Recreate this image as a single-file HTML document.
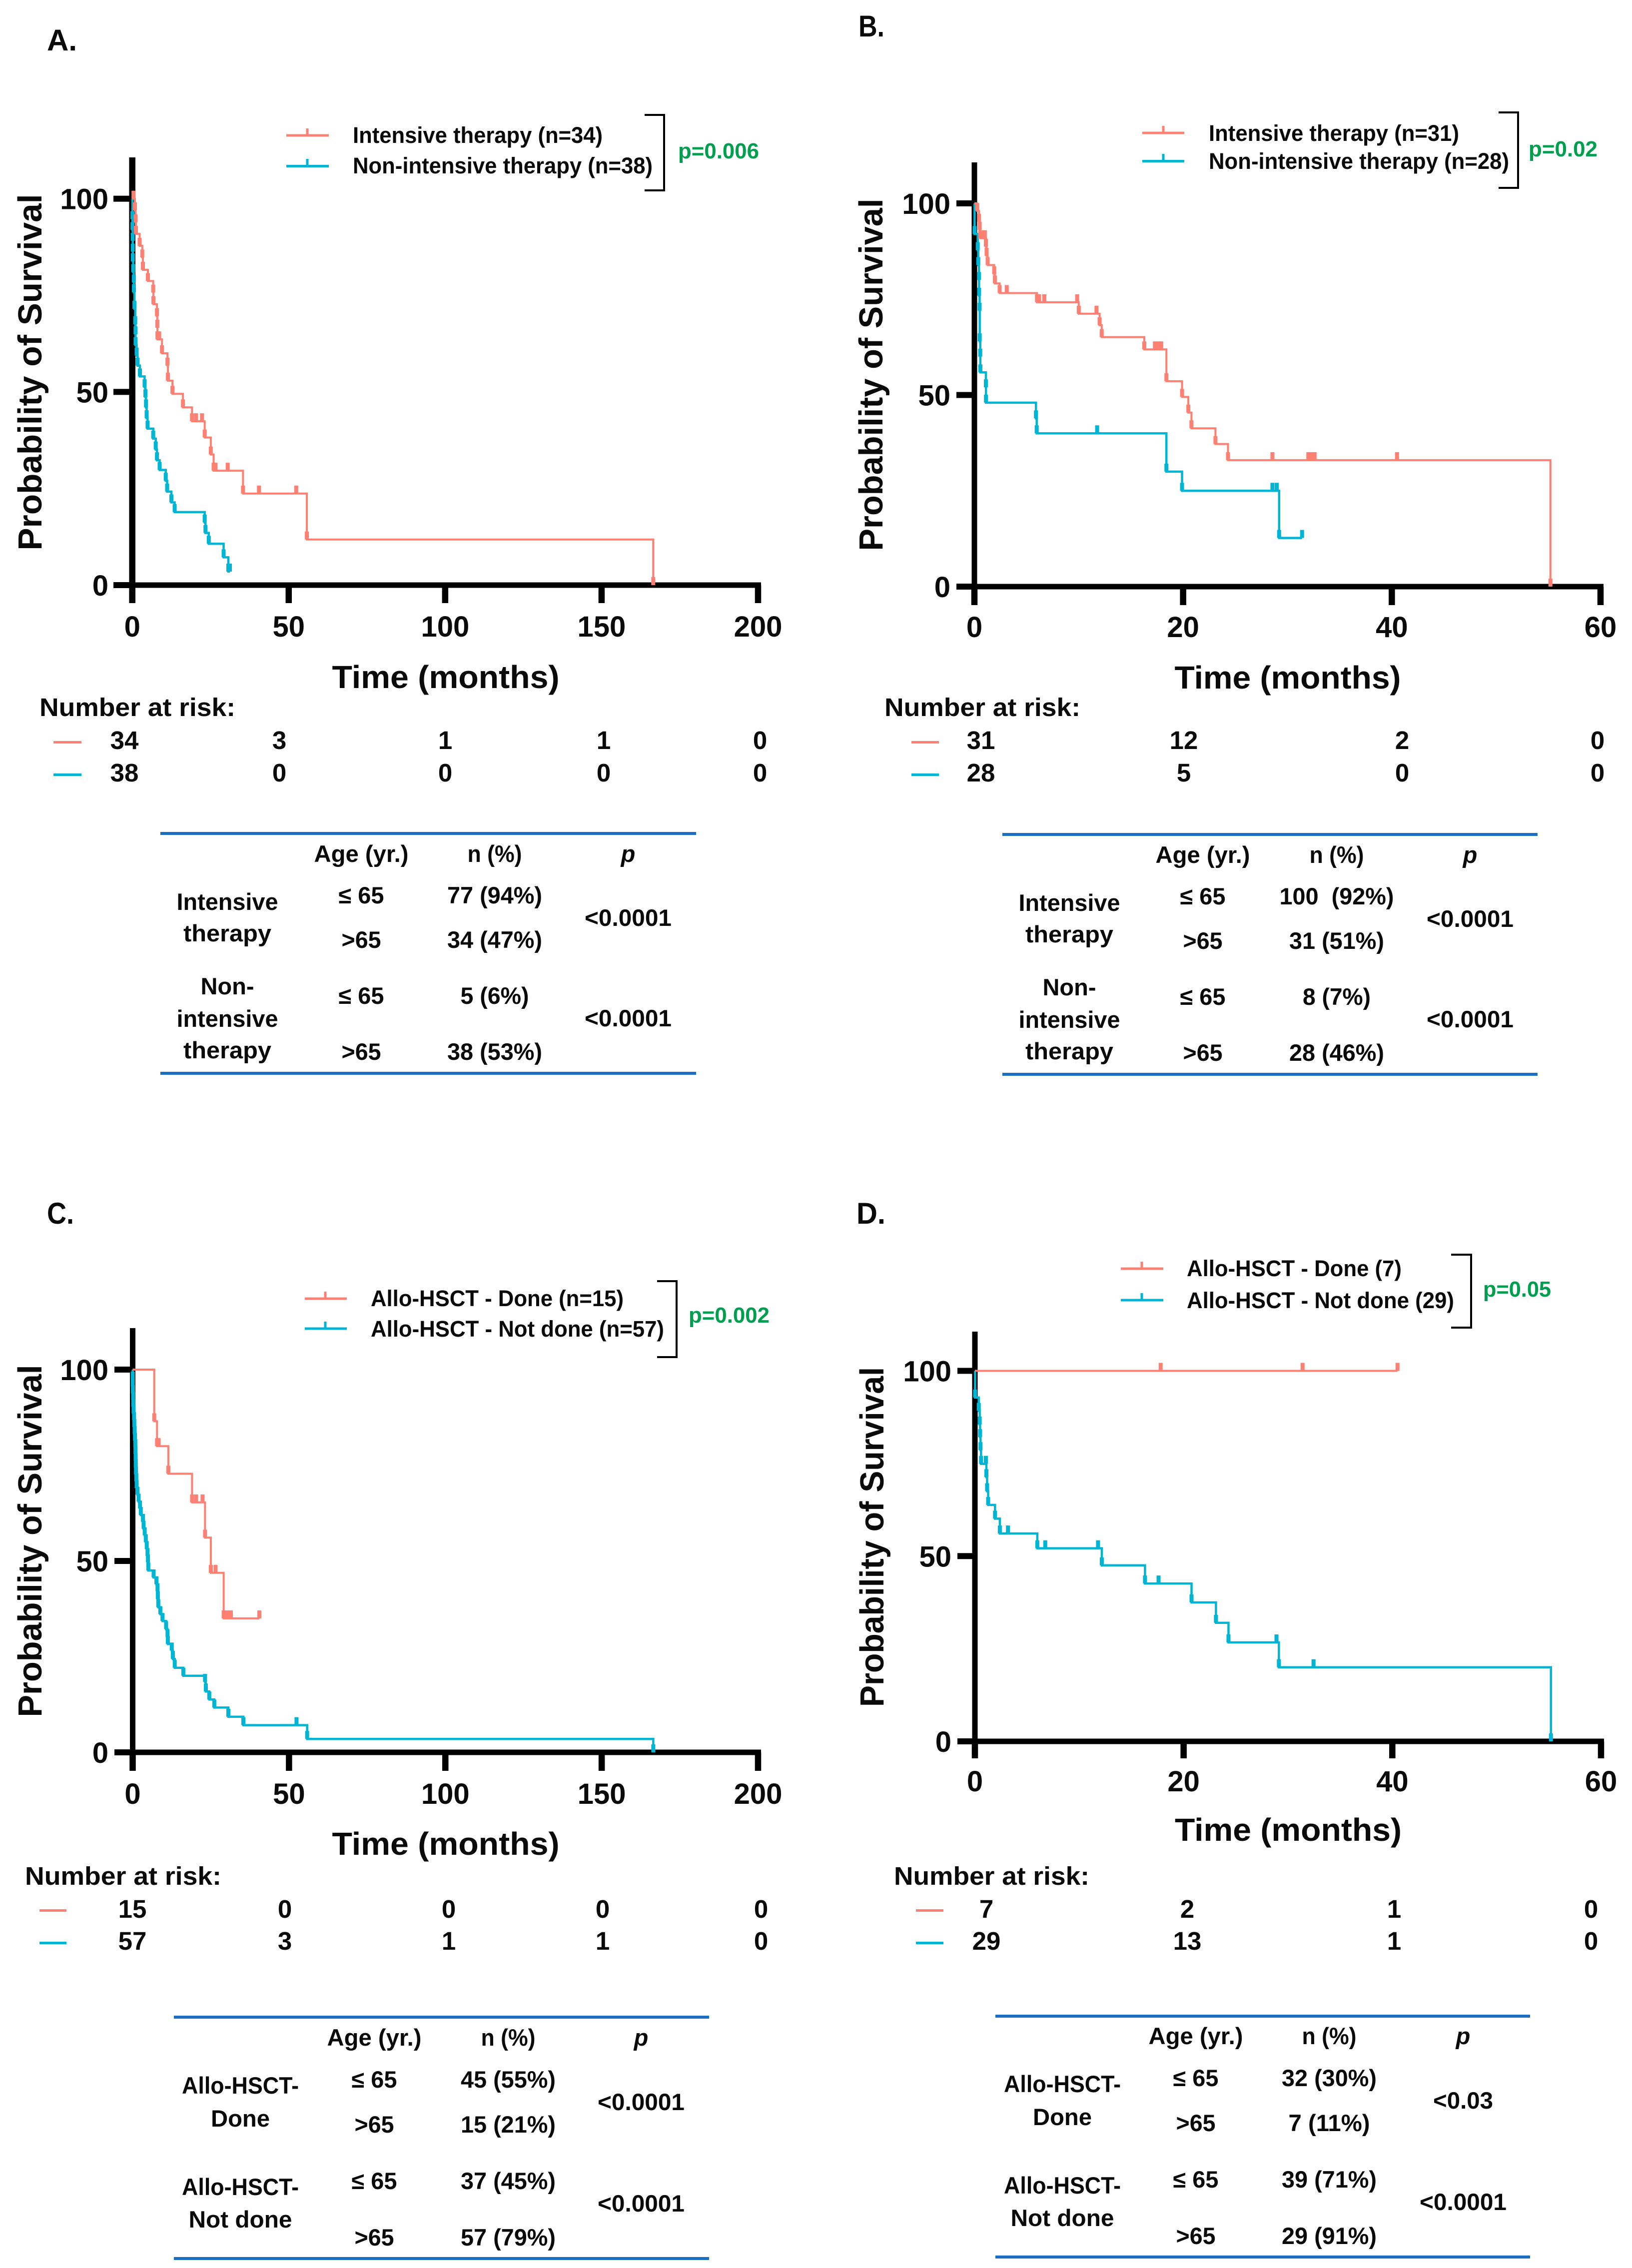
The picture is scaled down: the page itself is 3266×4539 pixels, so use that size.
<!DOCTYPE html>
<html lang="en">
<head>
<meta charset="utf-8">
<title>Kaplan-Meier survival panels</title>
<style>
html,body{margin:0;padding:0;background:#fff;}
svg{display:block;}
text{font-family:"Liberation Sans",Arial,sans-serif;font-weight:bold;fill:#0a0a0a;}
.ph{font-size:60px;}
.yt{font-size:67px;text-anchor:middle;}
.xt{font-size:64px;text-anchor:middle;}
.lg{font-size:45px;}
.pv{font-size:44px;fill:#009e4f;}
.nr{font-size:51px;}
.rk{font-size:51px;text-anchor:middle;}
.tb{font-size:47px;text-anchor:middle;}
.tk{font-size:58px;}
</style>
</head>
<body>
<svg id="fig" xmlns="http://www.w3.org/2000/svg" width="3266" height="4539" viewBox="0 0 3266 4539">
<rect width="3266" height="4539" fill="#fff"/>

<!-- PANEL A -->
<g>
<text class="ph" x="94" y="101" textLength="60" lengthAdjust="spacingAndGlyphs">A.</text>
<text class="yt" transform="translate(83,745) rotate(-90)" textLength="713" lengthAdjust="spacingAndGlyphs">Probability of Survival</text>
<text class="xt" x="892" y="1377" textLength="455" lengthAdjust="spacingAndGlyphs">Time (months)</text>
<g id="plot-a"></g>
<g>
<path d="M573 271H658M615 271V257" stroke="#fd8072" stroke-width="5" fill="none"/>
<path d="M573 332.5H658M615 332.5V318" stroke="#00b5d3" stroke-width="5" fill="none"/>
<text class="lg" x="706" y="286" textLength="500" lengthAdjust="spacingAndGlyphs">Intensive therapy (n=34)</text>
<text class="lg" x="706" y="347" textLength="600" lengthAdjust="spacingAndGlyphs">Non-intensive therapy (n=38)</text>
<path d="M1290 230H1329V381H1290" stroke="#000" stroke-width="4" fill="none"/>
<text class="pv" x="1357" y="317" textLength="162" lengthAdjust="spacingAndGlyphs">p=0.006</text>
</g>
<g>
<text class="nr" x="79" y="1433" textLength="392" lengthAdjust="spacingAndGlyphs">Number at risk:</text>
<rect x="107" y="1483" width="56" height="5" fill="#fd8072"/>
<rect x="107" y="1548" width="56" height="5" fill="#00b5d3"/>
<text class="rk" x="249" y="1499">34</text>
<text class="rk" x="559" y="1499">3</text>
<text class="rk" x="891" y="1499">1</text>
<text class="rk" x="1208" y="1499">1</text>
<text class="rk" x="1521" y="1499">0</text>
<text class="rk" x="249" y="1564">38</text>
<text class="rk" x="559" y="1564">0</text>
<text class="rk" x="891" y="1564">0</text>
<text class="rk" x="1208" y="1564">0</text>
<text class="rk" x="1521" y="1564">0</text>
</g>
<g>
<rect x="321" y="1665" width="1072" height="6" fill="#1b6ec2"/>
<rect x="321" y="2145" width="1072" height="6" fill="#1b6ec2"/>
<text class="tb" x="723" y="1725" textLength="189" lengthAdjust="spacingAndGlyphs">Age (yr.)</text>
<text class="tb" x="990" y="1725" textLength="109" lengthAdjust="spacingAndGlyphs">n (%)</text>
<text class="tb" x="1257" y="1725" font-style="italic">p</text>
<text class="tb" x="455" y="1821" textLength="203" lengthAdjust="spacingAndGlyphs">Intensive</text>
<text class="tb" x="455" y="1884" textLength="176" lengthAdjust="spacingAndGlyphs">therapy</text>
<text class="tb" x="455" y="1990" textLength="107" lengthAdjust="spacingAndGlyphs">Non-</text>
<text class="tb" x="455" y="2055" textLength="203" lengthAdjust="spacingAndGlyphs">intensive</text>
<text class="tb" x="455" y="2118" textLength="176" lengthAdjust="spacingAndGlyphs">therapy</text>
<text class="tb" x="723" y="1808" textLength="91" lengthAdjust="spacingAndGlyphs">≤ 65</text>
<text class="tb" x="723" y="1897" textLength="79" lengthAdjust="spacingAndGlyphs">&gt;65</text>
<text class="tb" x="723" y="2009" textLength="91" lengthAdjust="spacingAndGlyphs">≤ 65</text>
<text class="tb" x="723" y="2121" textLength="79" lengthAdjust="spacingAndGlyphs">&gt;65</text>
<text class="tb" x="990" y="1808" textLength="190" lengthAdjust="spacingAndGlyphs">77 (94%)</text>
<text class="tb" x="990" y="1897" textLength="190" lengthAdjust="spacingAndGlyphs">34 (47%)</text>
<text class="tb" x="990" y="2009" textLength="137" lengthAdjust="spacingAndGlyphs">5 (6%)</text>
<text class="tb" x="990" y="2121" textLength="190" lengthAdjust="spacingAndGlyphs">38 (53%)</text>
<text class="tb" x="1257" y="1853" textLength="174" lengthAdjust="spacingAndGlyphs">&lt;0.0001</text>
<text class="tb" x="1257" y="2054" textLength="174" lengthAdjust="spacingAndGlyphs">&lt;0.0001</text>
</g>
</g>

<!-- PANEL B -->
<g>
<text class="ph" x="1718" y="73" textLength="52" lengthAdjust="spacingAndGlyphs">B.</text>
<text class="yt" transform="translate(1766,750) rotate(-90)" textLength="705" lengthAdjust="spacingAndGlyphs">Probability of Survival</text>
<text class="xt" x="2577" y="1378" textLength="453" lengthAdjust="spacingAndGlyphs">Time (months)</text>
<g id="plot-b"></g>
<g>
<path d="M2286 266H2370M2328 266V252" stroke="#fd8072" stroke-width="5" fill="none"/>
<path d="M2286 322.5H2370M2328 322.5V308" stroke="#00b5d3" stroke-width="5" fill="none"/>
<text class="lg" x="2419" y="282" textLength="501" lengthAdjust="spacingAndGlyphs">Intensive therapy (n=31)</text>
<text class="lg" x="2419" y="338" textLength="601" lengthAdjust="spacingAndGlyphs">Non-intensive therapy (n=28)</text>
<path d="M2999 225H3038V376H2999" stroke="#000" stroke-width="4" fill="none"/>
<text class="pv" x="3059" y="313" textLength="138" lengthAdjust="spacingAndGlyphs">p=0.02</text>
</g>
<g>
<text class="nr" x="1770" y="1433" textLength="392" lengthAdjust="spacingAndGlyphs">Number at risk:</text>
<rect x="1824" y="1483" width="55" height="5" fill="#fd8072"/>
<rect x="1824" y="1548" width="55" height="5" fill="#00b5d3"/>
<text class="rk" x="1963" y="1499">31</text>
<text class="rk" x="2369" y="1499">12</text>
<text class="rk" x="2806" y="1499">2</text>
<text class="rk" x="3197" y="1499">0</text>
<text class="rk" x="1963" y="1564">28</text>
<text class="rk" x="2369" y="1564">5</text>
<text class="rk" x="2806" y="1564">0</text>
<text class="rk" x="3197" y="1564">0</text>
</g>
<g>
<rect x="2006" y="1667" width="1071" height="6" fill="#1b6ec2"/>
<rect x="2006" y="2147" width="1071" height="6" fill="#1b6ec2"/>
<text class="tb" x="2407" y="1727" textLength="189" lengthAdjust="spacingAndGlyphs">Age (yr.)</text>
<text class="tb" x="2675" y="1727" textLength="109" lengthAdjust="spacingAndGlyphs">n (%)</text>
<text class="tb" x="2942" y="1727" font-style="italic">p</text>
<text class="tb" x="2140" y="1823" textLength="203" lengthAdjust="spacingAndGlyphs">Intensive</text>
<text class="tb" x="2140" y="1886" textLength="176" lengthAdjust="spacingAndGlyphs">therapy</text>
<text class="tb" x="2140" y="1992" textLength="107" lengthAdjust="spacingAndGlyphs">Non-</text>
<text class="tb" x="2140" y="2057" textLength="203" lengthAdjust="spacingAndGlyphs">intensive</text>
<text class="tb" x="2140" y="2120" textLength="176" lengthAdjust="spacingAndGlyphs">therapy</text>
<text class="tb" x="2407" y="1810" textLength="91" lengthAdjust="spacingAndGlyphs">≤ 65</text>
<text class="tb" x="2407" y="1899" textLength="79" lengthAdjust="spacingAndGlyphs">&gt;65</text>
<text class="tb" x="2407" y="2011" textLength="91" lengthAdjust="spacingAndGlyphs">≤ 65</text>
<text class="tb" x="2407" y="2123" textLength="79" lengthAdjust="spacingAndGlyphs">&gt;65</text>
<text class="tb" x="2675" y="1810" textLength="229" lengthAdjust="spacingAndGlyphs" xml:space="preserve">100  (92%)</text>
<text class="tb" x="2675" y="1899" textLength="190" lengthAdjust="spacingAndGlyphs">31 (51%)</text>
<text class="tb" x="2675" y="2011" textLength="136" lengthAdjust="spacingAndGlyphs">8 (7%)</text>
<text class="tb" x="2675" y="2123" textLength="190" lengthAdjust="spacingAndGlyphs">28 (46%)</text>
<text class="tb" x="2942" y="1855" textLength="174" lengthAdjust="spacingAndGlyphs">&lt;0.0001</text>
<text class="tb" x="2942" y="2056" textLength="174" lengthAdjust="spacingAndGlyphs">&lt;0.0001</text>
</g>
</g>

<!-- PANEL C -->
<g>
<text class="ph" x="94" y="2449" textLength="54" lengthAdjust="spacingAndGlyphs">C.</text>
<text class="yt" transform="translate(83,3084) rotate(-90)" textLength="705" lengthAdjust="spacingAndGlyphs">Probability of Survival</text>
<text class="xt" x="892" y="3712" textLength="455" lengthAdjust="spacingAndGlyphs">Time (months)</text>
<g id="plot-c"></g>
<g>
<path d="M610 2599H694M651 2599V2585" stroke="#fd8072" stroke-width="5" fill="none"/>
<path d="M610 2659H694M651 2659V2645" stroke="#00b5d3" stroke-width="5" fill="none"/>
<text class="lg" x="742" y="2614" textLength="506" lengthAdjust="spacingAndGlyphs">Allo-HSCT - Done (n=15)</text>
<text class="lg" x="742" y="2675" textLength="587" lengthAdjust="spacingAndGlyphs">Allo-HSCT - Not done (n=57)</text>
<path d="M1315 2564H1354V2716H1315" stroke="#000" stroke-width="4" fill="none"/>
<text class="pv" x="1378" y="2647" textLength="162" lengthAdjust="spacingAndGlyphs">p=0.002</text>
</g>
<g>
<text class="nr" x="50" y="3772" textLength="393" lengthAdjust="spacingAndGlyphs">Number at risk:</text>
<rect x="79" y="3821" width="54" height="5" fill="#fd8072"/>
<rect x="79" y="3886" width="54" height="5" fill="#00b5d3"/>
<text class="rk" x="265" y="3838">15</text>
<text class="rk" x="570" y="3838">0</text>
<text class="rk" x="898" y="3838">0</text>
<text class="rk" x="1206" y="3838">0</text>
<text class="rk" x="1523" y="3838">0</text>
<text class="rk" x="265" y="3902">57</text>
<text class="rk" x="570" y="3902">3</text>
<text class="rk" x="898" y="3902">1</text>
<text class="rk" x="1206" y="3902">1</text>
<text class="rk" x="1523" y="3902">0</text>
</g>
<g>
<rect x="348" y="4034" width="1071" height="6" fill="#1b6ec2"/>
<rect x="348" y="4517" width="1071" height="6" fill="#1b6ec2"/>
<text class="tb" x="749" y="4094" textLength="189" lengthAdjust="spacingAndGlyphs">Age (yr.)</text>
<text class="tb" x="1017" y="4094" textLength="109" lengthAdjust="spacingAndGlyphs">n (%)</text>
<text class="tb" x="1283" y="4094" font-style="italic">p</text>
<text class="tb" x="481" y="4190" textLength="234" lengthAdjust="spacingAndGlyphs">Allo-HSCT-</text>
<text class="tb" x="481" y="4256" textLength="118" lengthAdjust="spacingAndGlyphs">Done</text>
<text class="tb" x="481" y="4393" textLength="234" lengthAdjust="spacingAndGlyphs">Allo-HSCT-</text>
<text class="tb" x="481" y="4458" textLength="207" lengthAdjust="spacingAndGlyphs">Not done</text>
<text class="tb" x="749" y="4178" textLength="91" lengthAdjust="spacingAndGlyphs">≤ 65</text>
<text class="tb" x="749" y="4268" textLength="79" lengthAdjust="spacingAndGlyphs">&gt;65</text>
<text class="tb" x="749" y="4381" textLength="91" lengthAdjust="spacingAndGlyphs">≤ 65</text>
<text class="tb" x="749" y="4494" textLength="79" lengthAdjust="spacingAndGlyphs">&gt;65</text>
<text class="tb" x="1017" y="4178" textLength="190" lengthAdjust="spacingAndGlyphs">45 (55%)</text>
<text class="tb" x="1017" y="4268" textLength="190" lengthAdjust="spacingAndGlyphs">15 (21%)</text>
<text class="tb" x="1017" y="4381" textLength="190" lengthAdjust="spacingAndGlyphs">37 (45%)</text>
<text class="tb" x="1017" y="4494" textLength="190" lengthAdjust="spacingAndGlyphs">57 (79%)</text>
<text class="tb" x="1283" y="4223" textLength="174" lengthAdjust="spacingAndGlyphs">&lt;0.0001</text>
<text class="tb" x="1283" y="4426" textLength="174" lengthAdjust="spacingAndGlyphs">&lt;0.0001</text>
</g>
</g>

<!-- PANEL D -->
<g>
<text class="ph" x="1714" y="2449" textLength="58" lengthAdjust="spacingAndGlyphs">D.</text>
<text class="yt" transform="translate(1768,3076) rotate(-90)" textLength="680" lengthAdjust="spacingAndGlyphs">Probability of Survival</text>
<text class="xt" x="2578" y="3684" textLength="454" lengthAdjust="spacingAndGlyphs">Time (months)</text>
<g id="plot-d"></g>
<g>
<path d="M2243 2539H2328M2285 2539V2525" stroke="#fd8072" stroke-width="5" fill="none"/>
<path d="M2243 2602H2328M2285 2602V2588" stroke="#00b5d3" stroke-width="5" fill="none"/>
<text class="lg" x="2375" y="2554" textLength="430" lengthAdjust="spacingAndGlyphs">Allo-HSCT - Done (7)</text>
<text class="lg" x="2375" y="2618" textLength="535" lengthAdjust="spacingAndGlyphs">Allo-HSCT - Not done (29)</text>
<path d="M2904 2511H2944V2657H2904" stroke="#000" stroke-width="4" fill="none"/>
<text class="pv" x="2968" y="2595" textLength="136" lengthAdjust="spacingAndGlyphs">p=0.05</text>
</g>
<g>
<text class="nr" x="1789" y="3772" textLength="391" lengthAdjust="spacingAndGlyphs">Number at risk:</text>
<rect x="1833" y="3821" width="55" height="5" fill="#fd8072"/>
<rect x="1833" y="3886" width="55" height="5" fill="#00b5d3"/>
<text class="rk" x="1974" y="3838">7</text>
<text class="rk" x="2376" y="3838">2</text>
<text class="rk" x="2790" y="3838">1</text>
<text class="rk" x="3184" y="3838">0</text>
<text class="rk" x="1974" y="3902">29</text>
<text class="rk" x="2376" y="3902">13</text>
<text class="rk" x="2790" y="3902">1</text>
<text class="rk" x="3184" y="3902">0</text>
</g>
<g>
<rect x="1992" y="4032" width="1070" height="6" fill="#1b6ec2"/>
<rect x="1992" y="4514" width="1070" height="6" fill="#1b6ec2"/>
<text class="tb" x="2393" y="4091" textLength="189" lengthAdjust="spacingAndGlyphs">Age (yr.)</text>
<text class="tb" x="2660" y="4091" textLength="109" lengthAdjust="spacingAndGlyphs">n (%)</text>
<text class="tb" x="2928" y="4091" font-style="italic">p</text>
<text class="tb" x="2126" y="4187" textLength="234" lengthAdjust="spacingAndGlyphs">Allo-HSCT-</text>
<text class="tb" x="2126" y="4253" textLength="118" lengthAdjust="spacingAndGlyphs">Done</text>
<text class="tb" x="2126" y="4390" textLength="234" lengthAdjust="spacingAndGlyphs">Allo-HSCT-</text>
<text class="tb" x="2126" y="4455" textLength="207" lengthAdjust="spacingAndGlyphs">Not done</text>
<text class="tb" x="2393" y="4175" textLength="91" lengthAdjust="spacingAndGlyphs">≤ 65</text>
<text class="tb" x="2393" y="4265" textLength="79" lengthAdjust="spacingAndGlyphs">&gt;65</text>
<text class="tb" x="2393" y="4378" textLength="91" lengthAdjust="spacingAndGlyphs">≤ 65</text>
<text class="tb" x="2393" y="4491" textLength="79" lengthAdjust="spacingAndGlyphs">&gt;65</text>
<text class="tb" x="2660" y="4175" textLength="190" lengthAdjust="spacingAndGlyphs">32 (30%)</text>
<text class="tb" x="2660" y="4265" textLength="163" lengthAdjust="spacingAndGlyphs">7 (11%)</text>
<text class="tb" x="2660" y="4378" textLength="190" lengthAdjust="spacingAndGlyphs">39 (71%)</text>
<text class="tb" x="2660" y="4491" textLength="190" lengthAdjust="spacingAndGlyphs">29 (91%)</text>
<text class="tb" x="2928" y="4220" textLength="120" lengthAdjust="spacingAndGlyphs">&lt;0.03</text>
<text class="tb" x="2928" y="4423" textLength="174" lengthAdjust="spacingAndGlyphs">&lt;0.0001</text>
</g>
</g>
</svg>

<script>
// ---- Data: time in months, survival in percent ----
const yTickValues = [0, 50, 100];
const xTicksLong = [0, 50, 100, 150, 200];
const xTicksShort = [0, 20, 40, 60];

const aRedTimes = [0.85,1.07,1.17,2.35,3.2,3.4,5.0,6.7,6.75,7.9,8.0,8.05,9.5,11.25,11.4,12.85,16.2,19.1,23.15,25.1,26,35.4,55.8,166.5];
const aRedSurv = [97,93.9,90.9,87.8,84.8,81.6,78.7,75.7,72.7,69.6,66.6,63.6,60,56.8,52.9,49.5,46,42.4,38.2,33.8,29.6,23.7,11.8,0];
const aRedCensored = [0.4,8.6,20.4,22.3,26.6,30.5,40.5,52.4];
const aBlueTimes = [0.05,0.06,0.15,0.16,0.17,0.3,0.5,0.52,0.7,0.95,1.05,1.06,1.4,1.7,2.45,3.95,4.2,4.4,4.6,4.9,6.7,7.5,7.9,8.75,10.7,11.15,12.5,13.55,23.15,23.4,24.45,29.2,30.7];
const aBlueSurv = [94.7,91.9,89.1,86.3,83.8,81,78.3,75.8,71.5,67.5,64.9,62.1,59.4,56.8,54,51.2,48.6,46,43.2,40.5,37.9,35.1,32.3,29.8,27,24.2,21.4,18.9,16.2,13.5,10.7,7.2,3.5];
const aBlueCensored = [31.2];

const bRedTimes = [0.27,0.44,0.51,0.56,1.1,1.17,1.27,1.9,1.96,2.42,6,10,12,12.2,16.28,18.4,19.9,20.5,20.8,23.1,24.3,55.2];
const bRedSurv = [98,95.2,93.1,90.9,88.7,86.3,83.9,81.5,79.1,76.6,74.2,71.2,68.2,65.1,61.9,53.6,49.5,45.4,41.3,37.2,33,0];
const bRedCensored = [0.8,1.0,3.1,6.2,6.7,9.85,11.7,17.3,17.6,17.9,28.56,32,32.3,32.6,40.5];
const bBlueTimes = [0.02,0.32,0.37,0.44,0.45,0.5,0.51,0.56,0.57,1.1,1.11,5.9,5.97,18.4,19.9,29.2];
const bBlueSurv = [92,87.8,83.9,80,75.9,72,64,60,55.9,52,48,43.9,40,30,25,12.7];
const bBlueCensored = [11.76,28.56,28.97,31.4];

const cRedTimes = [6.9,7.8,11.4,19,23.15,25,29.1];
const cRedSurv = [86.5,80,72.8,65.3,56.1,46.9,35];
const cRedCensored = [8.3,20.3,22.35,26.5,30.3,31.4,40.5];
const cBlueTimes = [0.02,0.03,0.1,0.16,0.2,0.3,0.45,0.53,0.64,0.75,0.85,0.9,0.96,1,1.07,1.17,1.28,1.55,1.9,2.35,2.6,3.3,3.5,3.85,4.2,4.5,4.75,4.9,5,6.7,7.6,7.95,8.05,8.2,8.85,9.55,10.7,11.15,11.25,12.5,12.85,13.45,16.2,23.15,23.4,24.5,26.1,30.6,35.4,55.8,166.5];
const cBlueSurv = [97.4,95.6,93.8,92.1,90.3,88.5,86.8,85,83.2,81.4,79.7,77.9,76.1,74.4,72.6,70.8,69,67.3,65.5,63.7,62,60.2,58.4,56.7,54.9,53.1,51.3,49.6,47.5,45.7,43.9,42.1,40,37.9,36.1,34.3,32.2,30.1,28.3,26.6,24.4,22.1,20,18.4,15.9,13.8,11.7,9.3,7.1,3.5,0];
const cBlueCensored = [52.4];

const dRedTimes = [];
const dRedSurv = [];
const dRedCensored = [17.8,31.4,40.5];
const dBlueTimes = [0.02,0.37,0.46,0.5,0.54,0.59,1.1,1.17,1.27,1.93,2.39,5.98,12.16,16.3,20.76,23.1,24.3,29.13,55.2];
const dBlueSurv = [92.8,89.2,85.5,82.1,78.6,74.9,71.3,67.5,63.8,60.1,56.1,52.1,47.5,42.6,37.5,32,26.7,20,0];
const dBlueCensored = [1.05,3.17,6.74,11.8,17.6,28.9,32.45];

// ---- Rendering ----
const NS = 'http://www.w3.org/2000/svg';
const RED = '#fd8072';
const BLUE = '#00b5d3';

function make(parent, tag, attrs) {
  const el = document.createElementNS(NS, tag);
  for (const k in attrs) el.setAttribute(k, attrs[k]);
  parent.appendChild(el);
  return el;
}

function survivalAt(times, surv, t) {
  let s = 100;
  for (let i = 0; i < times.length; i++) if (times[i] <= t) s = surv[i];
  return s;
}

function drawSeries(g, key, color, lineW, times, surv, censored, xs, ys) {
  const all = times.concat(censored);
  const tEnd = Math.max.apply(null, all);
  let d = 'M' + xs(0) + ' ' + ys(100);
  times.forEach(function (t, i) {
    d += 'H' + xs(t) + 'V' + ys(surv[i]);
  });
  d += 'H' + xs(tEnd);
  const curve = make(g, 'path', { d: d, fill: 'none', stroke: color, 'stroke-width': lineW });
  
  
  times.forEach(function (t, i) {
    const mark = make(g, 'rect', { x: xs(t) - 4, y: ys(surv[i]) - 16, width: 8, height: 16, fill: color });
    
    
  });
  censored.forEach(function (t) {
    const s = survivalAt(times, surv, t);
    const mark = make(g, 'rect', { x: xs(t) - 4, y: ys(s) - 16, width: 8, height: 16, fill: color });
    
    
  });
}

function drawPlot(cfg) {
  const g = document.getElementById(cfg.id);
  const xs = function (t) { return cfg.x0 + t * (cfg.xEnd - cfg.x0) / cfg.xMax; };
  const ys = function (v) { return cfg.y0 + v * (cfg.y100 - cfg.y0) / 100; };

  const yAxis = make(g, 'rect', { x: cfg.x0 - cfg.axisW / 2, y: cfg.top, width: cfg.axisW, height: cfg.bottom - cfg.top, fill: '#000' });
  
  
  const xAxis = make(g, 'rect', { x: cfg.left, y: cfg.y0 - 5.5, width: cfg.xEnd + 6 - cfg.left, height: 11, fill: '#000' });
  
  

  yTickValues.forEach(function (v) {
    const tick = make(g, 'rect', { x: cfg.left, y: ys(v) - 6, width: cfg.x0 - cfg.left, height: 12, fill: '#000' });
    
    
    const label = make(g, 'text', { x: cfg.yLabelX, y: ys(v) + 21, class: 'tk', 'text-anchor': 'end' });
    
    
    label.textContent = v;
  });

  cfg.xTicks.forEach(function (v) {
    const tick = make(g, 'rect', { x: xs(v) - 6.25, y: cfg.y0, width: 12.5, height: cfg.bottom - cfg.y0, fill: '#000' });
    
    
    const label = make(g, 'text', { x: xs(v), y: cfg.xLabelY, class: 'tk', 'text-anchor': 'middle' });
    
    
    label.textContent = v;
  });

  drawSeries(g, cfg.blueKey, BLUE, 4.5, cfg.blue[0], cfg.blue[1], cfg.blue[2], xs, ys);
  drawSeries(g, cfg.redKey, RED, 4, cfg.red[0], cfg.red[1], cfg.red[2], xs, ys);
}

drawPlot({ id: 'plot-a', x0: 264.7, xEnd: 1517, xMax: 200, y100: 397.7, y0: 1171, top: 315, bottom: 1207, left: 227, axisW: 12.5,
  yLabelX: 217, xLabelY: 1274, xTicks: xTicksLong, redKey: 'intensive', blueKey: 'non-intensive',
  red: [aRedTimes, aRedSurv, aRedCensored], blue: [aBlueTimes, aBlueSurv, aBlueCensored] });
drawPlot({ id: 'plot-b', x0: 1950, xEnd: 3203, xMax: 60, y100: 407, y0: 1174, top: 325, bottom: 1211, left: 1914, axisW: 11,
  yLabelX: 1902, xLabelY: 1275, xTicks: xTicksShort, redKey: 'intensive', blueKey: 'non-intensive',
  red: [bRedTimes, bRedSurv, bRedCensored], blue: [bBlueTimes, bBlueSurv, bBlueCensored] });
drawPlot({ id: 'plot-c', x0: 265.5, xEnd: 1517, xMax: 200, y100: 2741, y0: 3507, top: 2658, bottom: 3544, left: 229, axisW: 11,
  yLabelX: 217, xLabelY: 3610, xTicks: xTicksLong, redKey: 'done', blueKey: 'not-done',
  red: [cRedTimes, cRedSurv, cRedCensored], blue: [cBlueTimes, cBlueSurv, cBlueCensored] });
drawPlot({ id: 'plot-d', x0: 1951, xEnd: 3204, xMax: 60, y100: 2743.5, y0: 3485, top: 2665, bottom: 3519, left: 1916, axisW: 11,
  yLabelX: 1904, xLabelY: 3585, xTicks: xTicksShort, redKey: 'done', blueKey: 'not-done',
  red: [dRedTimes, dRedSurv, dRedCensored], blue: [dBlueTimes, dBlueSurv, dBlueCensored] });
</script>
</body>
</html>
